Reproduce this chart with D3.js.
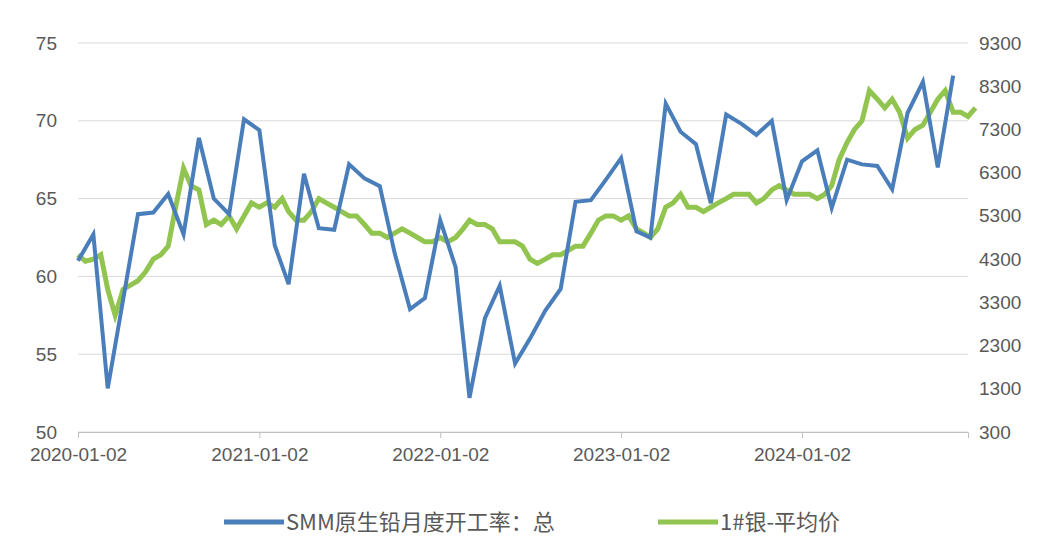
<!DOCTYPE html>
<html><head><meta charset="utf-8">
<script src="https://cdn.jsdelivr.net/npm/d3@7"></script>
<style>
body{margin:0;background:#fff;font-family:"Noto Sans CJK SC","Noto Sans",sans-serif;}
.tick text{fill:#595959;font-size:19px;}
</style></head><body>
<svg id="chart" width="1054" height="552"></svg>
<script>
// monthly operating rate, 2020-01 .. 2024-11
const rateStart = "2020-01-02";
const rateValues = [61.0,62.7,52.8,58.5,64.0,64.1,65.3,62.7,68.9,65.0,64.0,70.1,
  69.4,62.0,59.5,66.6,63.1,63.0,67.2,66.3,65.8,61.5,57.9,58.6,
  63.6,60.6,52.2,57.3,59.4,54.4,56.0,57.8,59.2,64.8,64.9,66.2,
  67.6,62.9,62.5,71.1,69.3,68.5,64.7,70.4,69.8,69.1,70.0,64.9,
  67.4,68.1,64.4,67.5,67.2,67.1,65.6,70.5,72.5,67.0,72.9];
// silver price, twice per month, 2020-01 .. 2024-12
const silverValues = [4400,4250,4300,4400,3600,3000,3600,3700,3800,4000,4300,4400,
  4600,5500,6400,6000,5900,5100,5200,5100,5300,5000,5300,5600,
  5500,5600,5500,5700,5400,5200,5200,5400,5700,5600,5500,5400,
  5300,5300,5100,4900,4900,4800,4900,5000,4900,4800,4700,4700,
  4800,4700,4800,5000,5200,5100,5100,5000,4700,4700,4700,4600,
  4300,4200,4300,4400,4400,4500,4600,4600,4900,5200,5300,5300,
  5200,5300,5000,4900,4800,5000,5500,5600,5800,5500,5500,5400,
  5500,5600,5700,5800,5800,5800,5600,5700,5900,6000,5900,5800,
  5800,5800,5700,5800,6000,6600,7000,7300,7500,8200,8000,7800,
  8000,7700,7100,7300,7400,7700,8000,8200,7700,7700,7600,7800];
const xTicks = ["2020-01-02","2021-01-02","2022-01-02","2023-01-02","2024-01-02"];
const leftTicks = [50,55,60,65,70,75];
const rightTicks = [300,1300,2300,3300,4300,5300,6300,7300,8300,9300];
const seriesNames = ["SMM原生铅月度开工率：总","1#银-平均价"];

const parse = d3.timeParse("%Y-%m-%d");
const t0 = parse(rateStart);
const rateData = rateValues.map((v,i)=>({d:d3.timeMonth.offset(t0,i),v}));
const silverData = silverValues.map((v,i)=>({d:d3.timeDay.offset(d3.timeMonth.offset(t0,Math.floor(i/2)),(i%2)*15),v}));

const svg = d3.select("#chart");
const L=78,R=968,T=43,B=432;
const x = d3.scaleTime().domain([t0, parse("2024-12-02")]).range([L,R]);
const yL = d3.scaleLinear().domain([50,75]).range([B,T]);
const yR = d3.scaleLinear().domain([300,9300]).range([B,T]);

svg.append("g").selectAll("line").data(leftTicks).join("line")
  .attr("x1",L).attr("x2",R).attr("y1",d=>yL(d)).attr("y2",d=>yL(d))
  .attr("stroke","#d9d9d9");

const ax = svg.append("g").attr("transform",`translate(0,${B})`)
  .call(d3.axisBottom(x).tickValues(xTicks.map(parse)).tickFormat(d3.timeFormat("%Y-%m-%d")).tickSize(6).tickPadding(10));
ax.select(".domain").attr("stroke","#bfbfbf");
ax.selectAll(".tick line").attr("stroke","#bfbfbf");

const al = svg.append("g").attr("transform",`translate(${L-18},0)`)
  .call(d3.axisLeft(yL).tickValues(leftTicks).tickSize(0));
al.select(".domain").remove();
const ar = svg.append("g").attr("transform",`translate(${R+8},0)`)
  .call(d3.axisRight(yR).tickValues(rightTicks).tickFormat(d3.format("d")).tickSize(0));
ar.select(".domain").remove();

svg.append("path").datum(silverData)
  .attr("fill","none").attr("stroke","#92c450").attr("stroke-width",5)
  .attr("d",d3.line().x(d=>x(d.d)).y(d=>yR(d.v)));
svg.append("path").datum(rateData)
  .attr("fill","none").attr("stroke","#4a7ebb").attr("stroke-width",4)
  .attr("d",d3.line().x(d=>x(d.d)).y(d=>yL(d.v)));

const lg = svg.append("g").attr("font-size",22).attr("fill","#595959");
[[224,"#4a7ebb",0],[658,"#92c450",1]].forEach(([lx,c,i])=>{
  lg.append("line").attr("x1",lx).attr("x2",lx+60).attr("y1",522).attr("y2",522)
    .attr("stroke",c).attr("stroke-width",5);
  lg.append("text").attr("x",lx+62).attr("y",530).text(seriesNames[i]);
});
</script></body></html>
